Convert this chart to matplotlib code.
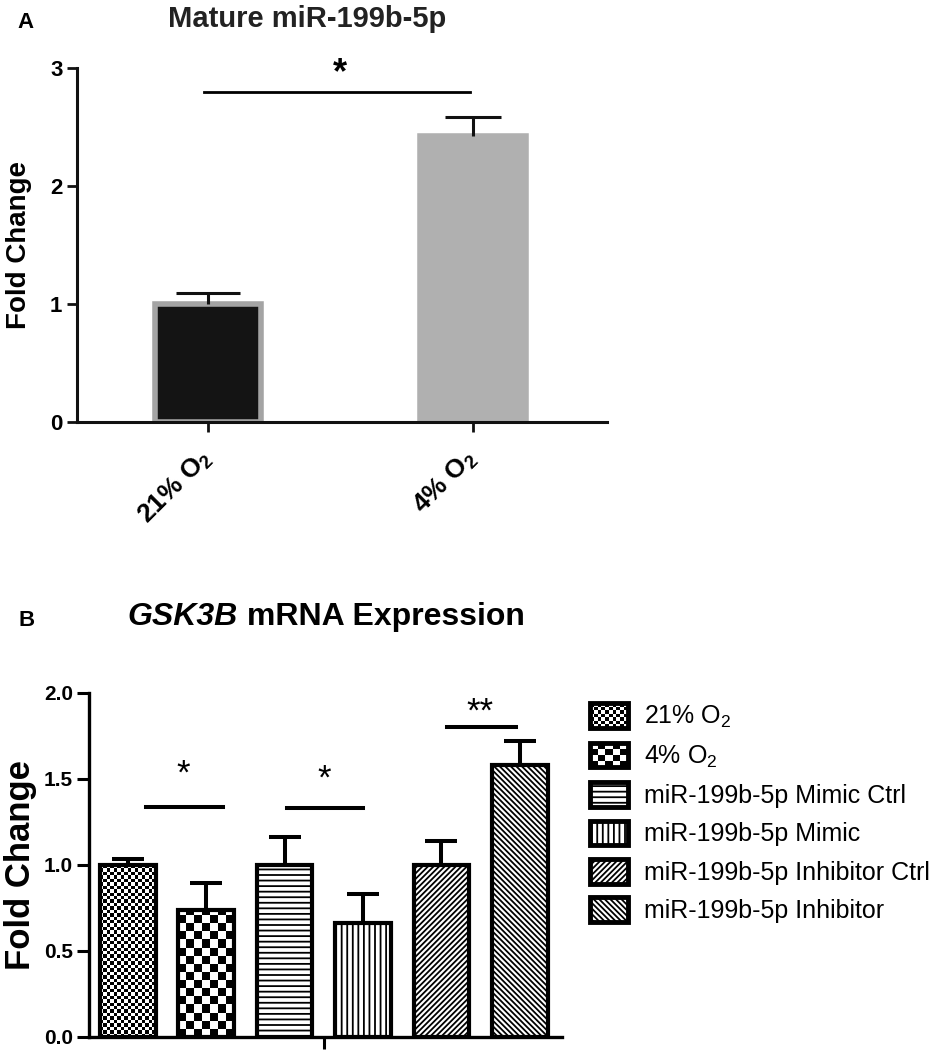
import matplotlib
matplotlib.use('Agg')
import matplotlib.pyplot as plt
import matplotlib.transforms as mtransforms
import numpy as np
from matplotlib.patches import Rectangle
from matplotlib.legend_handler import HandlerBase

plt.rcParams['font.family'] = 'Liberation Sans'
plt.rcParams['mathtext.default'] = 'regular'
plt.rcParams['hatch.color'] = 'black'
plt.rcParams['hatch.linewidth'] = 1.3

# Panel A data
a_groups = ['21% O$_2$', '4% O$_2$']
a_means = [1.0, 2.42]
a_errs = [0.09, 0.165]

# Panel B data
b_groups = ['21% O$_2$', '4% O$_2$', 'miR-199b-5p Mimic Ctrl', 'miR-199b-5p Mimic',
            'miR-199b-5p Inhibitor Ctrl', 'miR-199b-5p Inhibitor']
b_means = [1.0, 0.74, 1.0, 0.66, 1.0, 1.58]
b_errs = [0.035, 0.155, 0.16, 0.17, 0.14, 0.14]
b_hatches = [None, None, '---', '|||', '//////', '\\\\\\\\\\\\']

W, H = 943, 1050


def fx(px):
    return px / W


def fy(py):
    return 1 - py / H


def up_errorbar(ax, x, y, err, **kw):
    # error bar drawn upward only, no cap at the bar top
    x = np.atleast_1d(x)
    y = np.atleast_1d(y)
    err = np.atleast_1d(err)
    eb = ax.errorbar(x, y, yerr=[np.zeros(len(err)), err], fmt='none', **kw)
    caps = eb[1]
    if len(caps) == 2:
        caps[0].set_visible(False)
    return eb


fig = plt.figure(figsize=(W / 100, H / 100), dpi=100)

# ---------------- Panel A ----------------
axA = fig.add_axes([fx(77), fy(422), fx(607) - fx(77), fy(68) - fy(422)])
xa = np.arange(len(a_groups))
axA.bar(xa, a_means, width=0.4, color=['#141414', '#b0b0b0'],
        edgecolor=['#a4a4a4', '#b0b0b0'], linewidth=4, zorder=2)
up_errorbar(axA, xa[0], a_means[0], a_errs[0], ecolor='#111111',
            elinewidth=2.2, capsize=23, capthick=2.2, zorder=3)
up_errorbar(axA, xa[1], a_means[1], a_errs[1], ecolor='#111111',
            elinewidth=2.2, capsize=20, capthick=2.2, zorder=3)
axA.plot([-0.015, 0.99], [2.8, 2.8], color='black', lw=2, clip_on=False)
axA.text(0.5, 2.95, '*', ha='center', va='center', fontsize=26, fontweight='bold')

axA.set_xlim(-0.494, 1.506)
axA.set_ylim(0, 3)
axA.set_yticks([0, 1, 2, 3])
axA.set_xticks(xa)
axA.set_xticklabels(a_groups, rotation=45, ha='right', va='center', rotation_mode='anchor',
                    fontsize=19, fontweight='bold')
shift = mtransforms.ScaledTranslation(0.09, -0.02, fig.dpi_scale_trans)
for lab in axA.get_xticklabels():
    lab.set_transform(lab.get_transform() + shift)
for lab in axA.get_yticklabels():
    lab.set_fontsize(16)
    lab.set_fontweight('bold')
axA.tick_params(axis='both', length=7.5, width=2, pad=3, color='#111111')
axA.tick_params(axis='x', pad=16)
for s in ['top', 'right']:
    axA.spines[s].set_visible(False)
for s in ['left', 'bottom']:
    axA.spines[s].set_linewidth(2.2)
    axA.spines[s].set_color('#111111')
axA.set_ylabel('Fold Change', fontsize=20, fontweight='bold')
axA.yaxis.set_label_coords(-0.085, 0.5)

fig.text(fx(17), fy(28), 'A', fontsize=16, fontweight='bold', ha='left', va='baseline')
fig.text(fx(307), fy(27), 'Mature miR-199b-5p', fontsize=21, fontweight='bold',
         ha='center', va='baseline', color='#222222')

# ---------------- Panel B ----------------
axB = fig.add_axes([fx(89), fy(1037), fx(562) - fx(89), fy(693) - fy(1037)])
xb = np.arange(len(b_groups))
bars = axB.bar(xb, b_means, width=0.71, facecolor='white', edgecolor='black',
               linewidth=3, zorder=3)
for bar, h in zip(bars, b_hatches):
    if h:
        bar.set_hatch(h)
    bar.set_facecolor('none' if h is None else 'white')


def checker(ax, patch, nx, cell_y):
    x0, w, hgt = patch.get_x(), patch.get_width(), patch.get_height()
    ny = int(np.ceil(hgt / cell_y))
    img = np.add.outer(np.arange(ny), np.arange(nx)) % 2
    im = ax.imshow(img, cmap='gray', extent=(x0, x0 + w, 0, ny * cell_y), origin='lower',
                   aspect='auto', interpolation='nearest', zorder=2)
    im.set_clip_path(patch)


checker(axB, bars[0], 16, 0.02)
checker(axB, bars[1], 7, 0.047)

up_errorbar(axB, xb, b_means, b_errs, ecolor='black',
            elinewidth=2.9, capsize=11.5, capthick=2.9, zorder=4)

sig_lines = [(0.23, 1.21, 1.34), (2.03, 3.0, 1.33), (4.07, 4.95, 1.80)]
sig_text = [(0.70, 1.53, '*'), (2.51, 1.50, '*'), (4.49, 1.89, '**')]
for x0, x1, y in sig_lines:
    axB.plot([x0, x1], [y, y], color='black', lw=2.9)
for x, y, t in sig_text:
    axB.text(x, y, t, ha='center', va='center', fontsize=25)

axB.set_xlim(-0.497, 5.54)
axB.set_ylim(0, 2.0)
axB.set_xticks([2.5])
axB.set_xticklabels([''])
axB.set_yticks([0, 0.5, 1.0, 1.5, 2.0])
axB.set_yticklabels(['0.0', '0.5', '1.0', '1.5', '2.0'], fontsize=15, fontweight='bold')
axB.tick_params(axis='both', length=8.6, width=2.2, pad=3)
for s in ['top', 'right']:
    axB.spines[s].set_visible(False)
for s in ['left', 'bottom']:
    axB.spines[s].set_linewidth(2.4)
axB.set_ylabel('Fold Change', fontsize=25, fontweight='bold')
axB.yaxis.set_label_coords(-0.11, 0.5)

fig.text(fx(18), fy(626), 'B', fontsize=16, fontweight='bold', ha='left', va='baseline')
fig.text(fx(238), fy(625), 'GSK3B', fontsize=23, fontweight='bold', fontstyle='italic',
         ha='right', va='baseline')
fig.text(fx(247), fy(625), 'mRNA Expression', fontsize=23, fontweight='bold',
         ha='left', va='baseline')


# legend
class CheckerHandler(HandlerBase):
    def __init__(self, nx, ny):
        super().__init__()
        self.nx, self.ny = nx, ny

    def create_artists(self, legend, orig_handle, xdescent, ydescent, width, height,
                       fontsize, trans):
        arts = []
        cw, ch = width / self.nx, height / self.ny
        for i in range(self.nx):
            for j in range(self.ny):
                if (i + j) % 2 == 0:
                    arts.append(Rectangle((-xdescent + i * cw, -ydescent + j * ch), cw, ch,
                                          facecolor='black', lw=0, transform=trans))
        arts.append(Rectangle((-xdescent, -ydescent), width, height, facecolor='none',
                              edgecolor='black', lw=3.5, transform=trans))
        return arts


handles = []
for i, h in enumerate(b_hatches):
    handles.append(Rectangle((0, 0), 1, 1, facecolor='white', edgecolor='black',
                             linewidth=3.5, hatch=h))
hmap = {handles[0]: CheckerHandler(10, 7), handles[1]: CheckerHandler(5, 4)}
axB.legend(handles, b_groups, handler_map=hmap, loc='upper left',
           bbox_to_anchor=(fx(590), fy(703)), bbox_transform=fig.transFigure,
           frameon=False, fontsize=18, handlelength=1.5, handleheight=1.15,
           handletextpad=0.68, labelspacing=0.5, borderpad=0, borderaxespad=0)

fig.savefig('out.png', dpi=100)
